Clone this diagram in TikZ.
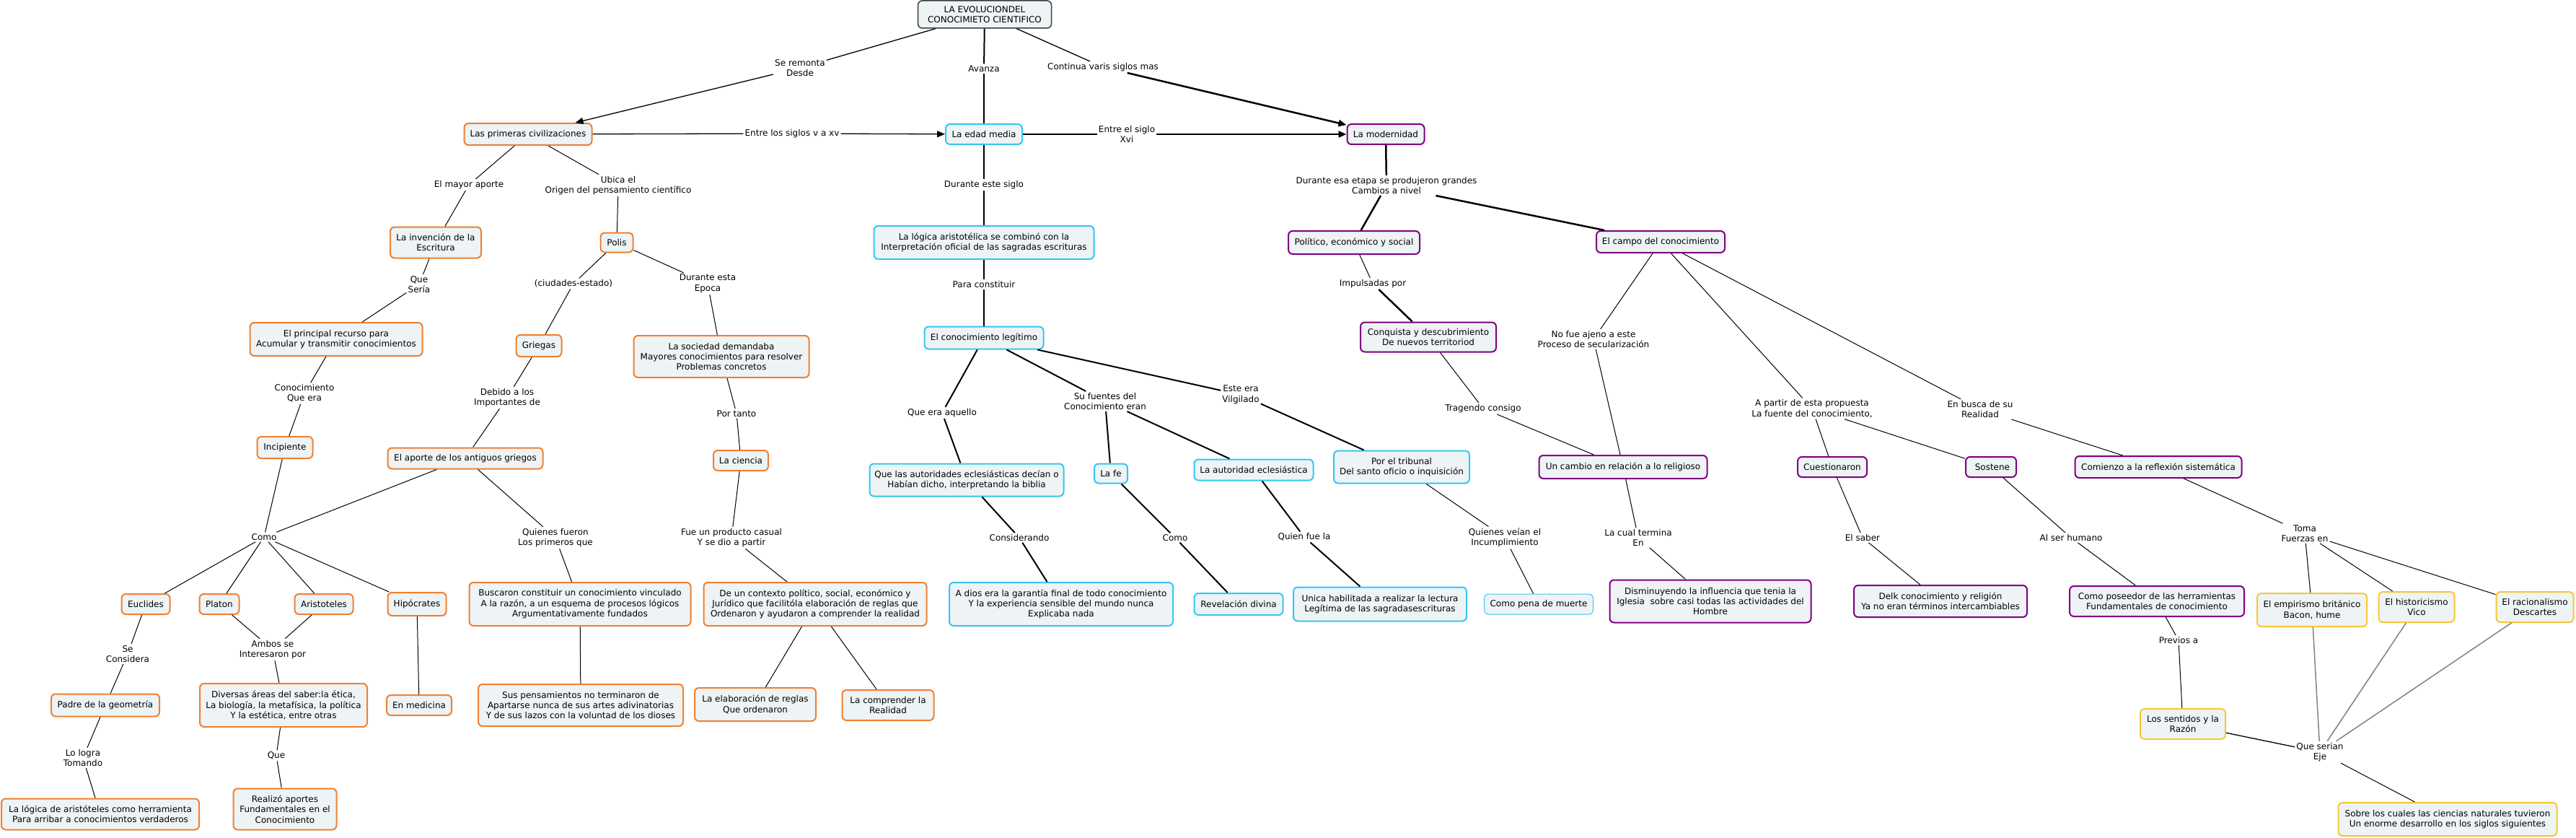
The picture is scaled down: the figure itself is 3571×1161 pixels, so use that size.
\documentclass[tikz,border=0pt]{standalone}
\usepackage{fontspec}
\setmainfont{DejaVu Sans}
\usetikzlibrary{arrows.meta}
\definecolor{cor}{RGB}{240,128,48}
\definecolor{ccy}{RGB}{51,200,240}
\definecolor{cpu}{RGB}{128,0,128}
\definecolor{cye}{RGB}{245,200,50}
\definecolor{boxfill}{RGB}{238,243,245}
\definecolor{croot}{RGB}{60,60,60}
\definecolor{cgray}{RGB}{130,130,130}
\begin{document}
\begin{tikzpicture}[x=1pt,y=-1pt,
  font=\fontsize{12}{14.4}\selectfont,
  box/.style={draw, rounded corners=6pt, line width=2pt, fill=boxfill, align=center, inner sep=2pt},
  ob/.style={box, draw=cor},
  cb/.style={box, draw=ccy},
  pb/.style={box, draw=cpu},
  yb/.style={box, draw=cye},
  rb/.style={box, draw=croot, line width=1.5pt},
  sz/.style 2 args={minimum width=#1pt, minimum height=#2pt},
  lab/.style={align=center, inner sep=2pt},
  tl/.style={line width=1pt},
  tk/.style={line width=2pt},
  arr/.style={-{Triangle[length=11pt,width=9pt]}}
]
\fill[white] (0,0) rectangle (3571,1161);
\useasboundingbox (0,0) rectangle (3571,1161);

% ---------- boxes ----------
\node[rb, sz={185}{38}] (root) at (1365,20) {LA EVOLUCIONDEL\\CONOCIMIETO CIENTIFICO};
\node[ob, sz={177}{30}] (prim) at (732,186) {Las primeras civilizaciones};
\node[cb, sz={106}{28}] (edad) at (1364,186) {La edad media};
\node[pb, sz={107}{28}] (mod) at (1921,186) {La modernidad};
\node[ob, sz={126}{43}] (inv) at (604,336) {La invención de la\\Escritura};
\node[ob, sz={45}{27}] (polis) at (855,336) {Polis};
\node[cb, sz={305}{46}] (logica) at (1364,336) {La lógica aristotélica se combinó con la\\Interpretación oficial de las sagradas escrituras};
\node[pb, sz={182}{32}] (pol) at (1877,336) {Político, económico y social};
\node[pb, sz={178}{30}] (campo) at (2302,335) {El campo del conocimiento};
\node[ob, sz={239}{46}] (princ) at (466,470) {El principal recurso para\\Acumular y transmitir conocimientos};
\node[ob, sz={63}{30}] (griegas) at (747,479) {Griegas};
\node[ob, sz={243}{58}] (soc) at (1000,494) {La sociedad demandaba\\Mayores conocimientos para resolver\\Problemas concretos};
\node[cb, sz={165}{31}] (legit) at (1364,468) {El conocimiento legítimo};
\node[pb, sz={188}{41}] (conq) at (1980,467) {Conquista y descubrimiento\\De nuevos territoriod};
\node[ob, sz={77}{30}] (incip) at (395,620) {Incipiente};
\node[ob, sz={215}{29}] (aporte) at (645,635) {El aporte de los antiguos griegos};
\node[ob, sz={76}{28}] (ciencia) at (1027,638) {La ciencia};
\node[cb, sz={269}{45}] (autor) at (1340,665) {Que las autoridades eclesiásticas decían o\\Habían dicho, interpretando la biblia};
\node[cb, sz={46}{27}] (fe) at (1540,656) {La fe};
\node[cb, sz={165}{29}] (autecl) at (1738,651) {La autoridad eclesiástica};
\node[cb, sz={188}{45}] (trib) at (1943,647) {Por el tribunal\\Del santo oficio o inquisición};
\node[pb, sz={233}{32}] (cambio) at (2250,647) {Un cambio en relación a lo religioso};
\node[pb, sz={96}{28}] (cuest) at (2540,647) {Cuestionaron};
\node[pb, sz={70}{28}] (sost) at (2760,647) {\ Sostene};
\node[pb, sz={231}{30}] (comienzo) at (2992,647) {Comienzo a la reflexión sistemática};
\node[ob, sz={67}{28}] (eucl) at (202,837) {Euclides};
\node[ob, sz={55}{28}] (platon) at (304,837) {Platon};
\node[ob, sz={81}{28}] (arist) at (449,837) {Aristoteles};
\node[ob, sz={81}{32}] (hipo) at (578,837) {Hipócrates};
\node[ob, sz={307}{60}] (busc) at (804,837) {Buscaron constituir un conocimiento vinculado\\A la razón, a un esquema de procesos lógicos\\Argumentativamente fundados};
\node[ob, sz={309}{60}] (contexto) at (1130,837) {De un contexto político, social, económico y\\Jurídico que facilitóla elaboración de reglas que\\Ordenaron y ayudaron a comprender la realidad};
\node[cb, sz={310}{60}] (adios) at (1471,837) {A dios era la garantía final de todo conocimiento\\Y la experiencia sensible del mundo nunca\\Explicaba nada};
\node[cb, sz={123}{30}] (revel) at (1717,837) {Revelación divina};
\node[cb, sz={240}{47}] (unica) at (1913,837) {Unica habilitada a realizar la lectura\\Legítima de las sagradasescrituras};
\node[cb, line width=1pt, sz={151}{28}] (pena) at (2133,837) {Como pena de muerte};
\node[pb, sz={279}{59}] (dismin) at (2371,833) {Disminuyendo la influencia que tenia la\\Iglesia\ \ sobre casi todas las actividades del\\Hombre};
\node[pb, sz={240}{44}] (delk) at (2690,833) {Delk conocimiento y religión\\Ya no eran términos intercambiables};
\node[pb, sz={242}{42}] (poseedor) at (2990,833) {Como poseedor de las herramientas\\Fundamentales de conocimiento};
\node[yb, sz={152}{46}] (empir) at (3205,845) {El empirismo británico\\Bacon, hume};
\node[yb, sz={105}{42}] (hist) at (3350,841) {El historicismo\\Vico};
\node[yb, sz={107}{42}] (racio) at (3514,841) {El racionalismo\\Descartes};
\node[ob, sz={150}{31}] (padre) at (146,977) {Padre de la geometría};
\node[ob, sz={232}{60}] (diversas) at (393,977) {Diversas áreas del saber:la ética,\\La biología, la metafísica, la política\\Y la estética, entre otras};
\node[ob, sz={90}{28}] (medic) at (581,977) {En medicina};
\node[ob, sz={284}{58}] (suspens) at (805,977) {Sus pensamientos no terminaron de\\Apartarse nunca de sus artes adivinatorias\\Y de sus lazos con la voluntad de los dioses};
\node[ob, sz={168}{46}] (elab) at (1047,976) {La elaboración de reglas\\Que ordenaron};
\node[ob, sz={127}{42}] (compr) at (1231,977) {La comprender la\\Realidad};
\node[yb, sz={118}{42}] (sentidos) at (3026,1003) {Los sentidos y la\\Razón};
\node[ob, sz={274}{43}] (logarist) at (139,1128) {La lógica de aristóteles como herramienta\\Para arribar a conocimientos verdaderos};
\node[ob, sz={143}{57}] (realizo) at (395,1121) {Realizó aportes\\Fundamentales en el\\Conocimiento};
\node[yb, sz={303}{46}] (sobre) at (3393,1135) {Sobre los cuales las ciencias naturales tuvieron\\Un enorme desarrollo en los siglos siguientes};

% ---------- link labels ----------
\node[lab] (lSe) at (1109,94) {Se remonta\\Desde};
\node[lab] (lAv) at (1364,95) {Avanza};
\node[lab] (lCont) at (1529,93) {Continua varis siglos mas};
\node[lab] (lEntreA) at (1098,185) {Entre los siglos v a xv};
\node[lab] (lEntreB) at (1562,186) {Entre el siglo\\Xvi};
\node[lab] (lMayor) at (650,256) {El mayor aporte};
\node[lab] (lUbica) at (857,257) {Ubica el\\Origen del pensamiento científico};
\node[lab] (lDurSiglo) at (1364,256) {Durante este siglo};
\node[lab] (lDurEtapa) at (1922,257) {Durante esa etapa se produjeron grandes\\Cambios a nivel};
\node[lab] (lQueSeria) at (581,394) {Que\\Sería};
\node[lab] (lCiud) at (795,393) {(ciudades-estado)};
\node[lab] (lDurEpoca) at (981,393) {Durante esta\\Epoca};
\node[lab] (lPara) at (1364,394) {Para constituir};
\node[lab] (lImpuls) at (1903,393) {Impulsadas por};
\node[lab] (lNoFue) at (2209,470) {No fue ajeno a este\\Proceso de secularización};
\node[lab] (lConoc) at (422,545) {Conocimiento\\Que era};
\node[lab] (lDebido) at (703,551) {Debido a los\\Importantes de};
\node[lab] (lPorTanto) at (1021,573) {Por tanto};
\node[lab] (lQueEra) at (1306,572) {Que era aquello};
\node[lab] (lSuFuentes) at (1532,556) {Su fuentes del\\Conocimiento eran};
\node[lab] (lEste) at (1720,547) {Este era\\Vilgilado};
\node[lab] (lTragendo) at (2056,566) {Tragendo consigo};
\node[lab] (lApartir) at (2512,566) {A partir de esta propuesta\\La fuente del conocimiento,};
\node[lab] (lBusca) at (2745,567) {En busca de su\\Realidad};
\node[lab] (lComoA) at (366,744) {Como};
\node[lab] (lQuienes) at (770,745) {Quienes fueron\\Los primeros que};
\node[lab] (lFue) at (1014,745) {Fue un producto casual\\Y se dio a partir};
\node[lab] (lConsid) at (1413,745) {Considerando};
\node[lab] (lComoB) at (1629,745) {Como};
\node[lab] (lQuien) at (1808,744) {Quien fue la};
\node[lab] (lQuienesV) at (2086,745) {Quienes veían el\\Incumplimiento};
\node[lab] (lCual) at (2271,745) {La cual termina\\En};
\node[lab] (lSaber) at (2582,745) {El saber};
\node[lab] (lAlSer) at (2871,745) {Al ser humano};
\node[lab] (lToma) at (3195,739) {Toma\\Fuerzas en};
\node[lab] (lSeCons) at (177,906) {Se\\Considera};
\node[lab] (lAmbos) at (378,900) {Ambos se\\Interesaron por};
\node[lab] (lPrevios) at (3020,887) {Previos a};
\node[lab] (lLogra) at (115,1050) {Lo logra\\Tomando};
\node[lab] (lQue) at (383,1047) {Que};
\node[lab] (lSerian) at (3216,1042) {Que serian\\Eje};

% ---------- connectors ----------
\draw[line width=1.3pt] (root) -- (lSe);
\draw[line width=1.3pt,arr] (lSe) -- (prim);
\draw[tk] (root) -- (lAv);
\draw[tk] (lAv) -- (edad);
\draw[line width=1.3pt] (root) -- (lCont);
\draw[line width=2.5pt,arr] (lCont) -- (mod);
\draw[line width=1.3pt] (prim) -- (lEntreA);
\draw[line width=1.3pt,arr] (lEntreA) -- (edad);
\draw[line width=2.5pt] (edad) -- (lEntreB);
\draw[line width=2.5pt,arr] (lEntreB) -- (mod);

% orange tree
\draw[tl] (prim) -- (lMayor) -- (inv);
\draw[tl] (prim) -- (lUbica);
\draw[tl] (lUbica) -- (polis);
\draw[tl] (inv) -- (lQueSeria);
\draw[tl] (lQueSeria) -- (princ);
\draw[tl] (polis) -- (lCiud);
\draw[tl] (lCiud) -- (griegas);
\draw[tl] (polis) -- (lDurEpoca);
\draw[tl] (lDurEpoca) -- (soc);
\draw[tl] (princ) -- (lConoc);
\draw[tl] (lConoc) -- (incip);
\draw[tl] (griegas) -- (lDebido);
\draw[tl] (lDebido) -- (aporte);
\draw[tl] (soc) -- (lPorTanto);
\draw[tl] (lPorTanto) -- (ciencia);
\draw[tl] (ciencia) -- (lFue);
\draw[tl] (lFue) -- (contexto);
\draw[tl] (incip) -- (lComoA);
\draw[tl] (aporte) -- (lComoA);
\draw[tl] (lComoA) -- (eucl);
\draw[tl] (lComoA) -- (platon);
\draw[tl] (lComoA) -- (arist);
\draw[tl] (lComoA) -- (hipo);
\draw[tl] (aporte) -- (lQuienes);
\draw[tl] (lQuienes) -- (busc);
\draw[tl] (busc) -- (suspens);
\draw[tl] (contexto) -- (elab);
\draw[tl] (contexto) -- (compr);
\draw[tl] (eucl) -- (lSeCons);
\draw[tl] (lSeCons) -- (padre);
\draw[tl] (padre) -- (lLogra);
\draw[tl] (lLogra) -- (logarist);
\draw[tl] (platon) -- (lAmbos);
\draw[tl] (arist) -- (lAmbos);
\draw[tl] (lAmbos) -- (diversas);
\draw[tl] (diversas) -- (lQue);
\draw[tl] (lQue) -- (realizo);
\draw[tl] (hipo) -- (medic);

% cyan tree
\draw[tk] (edad) -- (lDurSiglo);
\draw[tk] (lDurSiglo) -- (logica);
\draw[tk] (logica) -- (lPara);
\draw[tk] (lPara) -- (legit);
\draw[tk] (legit) -- (lQueEra);
\draw[tk] (lQueEra) -- (autor);
\draw[tk] (legit) -- (lSuFuentes);
\draw[tk] (lSuFuentes) -- (fe);
\draw[tk] (lSuFuentes) -- (autecl);
\draw[tk] (legit) -- (lEste);
\draw[tk] (lEste) -- (trib);
\draw[tk] (autor) -- (lConsid);
\draw[tk] (lConsid) -- (adios);
\draw[tk] (fe) -- (lComoB);
\draw[tk] (lComoB) -- (revel);
\draw[tk] (autecl) -- (lQuien);
\draw[tk] (lQuien) -- (unica);
\draw[tl] (trib) -- (lQuienesV);
\draw[tl] (lQuienesV) -- (pena);

% purple tree
\draw[line width=2.5pt] (mod) -- (lDurEtapa);
\draw[line width=2.5pt] (lDurEtapa) -- (pol);
\draw[line width=2.5pt] (lDurEtapa) -- (campo);
\draw[tl] (pol) -- (lImpuls);
\draw[line width=2.5pt] (lImpuls) -- (conq);
\draw[tl] (conq) -- (lTragendo);
\draw[tl] (lTragendo) -- (cambio);
\draw[tl] (campo) -- (lNoFue);
\draw[tl] (lNoFue) -- (cambio);
\draw[tl] (cambio) -- (lCual);
\draw[tl] (lCual) -- (dismin);
\draw[tl] (campo) -- (lApartir);
\draw[tl] (lApartir) -- (cuest);
\draw[tl] (lApartir) -- (sost);
\draw[tl] (campo) -- (lBusca);
\draw[tl] (lBusca) -- (comienzo);
\draw[tl] (cuest) -- (lSaber);
\draw[tl] (lSaber) -- (delk);
\draw[tl] (sost) -- (lAlSer);
\draw[tl] (lAlSer) -- (poseedor);
\draw[tl] (comienzo) -- (lToma);
\draw[tl] (lToma) -- (empir);
\draw[tl] (lToma) -- (hist);
\draw[tl] (lToma) -- (racio);
\draw[tl] (poseedor) -- (lPrevios);
\draw[tl] (lPrevios) -- (sentidos);
\draw[line width=1.3pt] (sentidos) -- (lSerian);
\draw[line width=1.5pt, cgray] (empir) -- (lSerian);
\draw[line width=1.5pt, cgray] (hist) -- (lSerian);
\draw[line width=1.5pt, cgray] (racio) -- (lSerian);
\draw[tl] (lSerian) -- (sobre);
\end{tikzpicture}
\end{document}
